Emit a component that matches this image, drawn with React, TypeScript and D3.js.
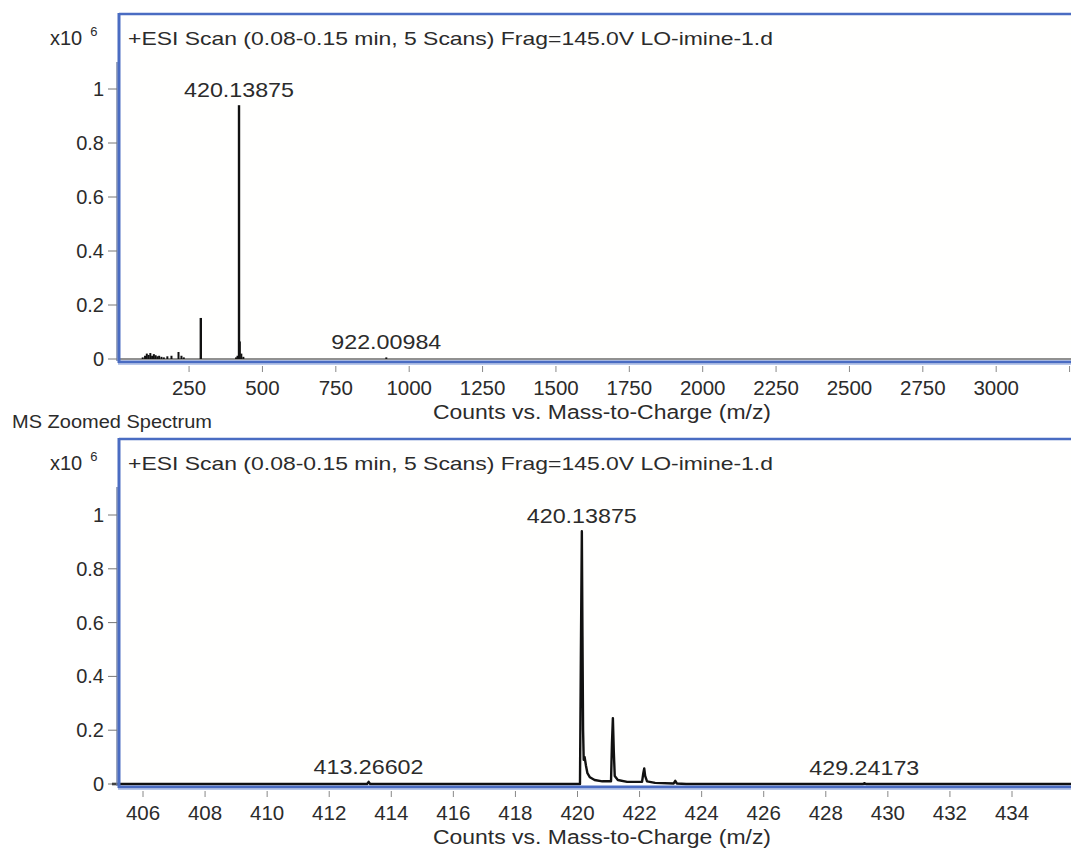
import React from "react";
import * as d3 from "d3";

// full scan: stick peaks (m/z, intensity x10^6)
const fullMz = [92, 100, 106, 112, 118, 124, 130, 136, 142, 148, 156, 164, 176, 190, 214, 224, 232, 290, 410, 415, 420.14, 423, 428, 435, 922];
const fullInt = [0.006, 0.012, 0.02, 0.015, 0.022, 0.012, 0.018, 0.014, 0.01, 0.012, 0.008, 0.006, 0.01, 0.012, 0.026, 0.012, 0.006, 0.152, 0.006, 0.012, 0.94, 0.065, 0.02, 0.008, 0.006];
const fullTicks = [250, 500, 750, 1000, 1250, 1500, 1750, 2000, 2250, 2500, 2750, 3000, 3250];
const fullTickLabels = ["250", "500", "750", "1000", "1250", "1500", "1750", "2000", "2250", "2500", "2750", "3000", ""];
const fullLabels = [
  { mz: 420.13875, int: 0.94, text: "420.13875" },
  { mz: 922.00984, int: 0.006, text: "922.00984" },
];

// zoomed profile (m/z, intensity x10^6)
const zoomMz = [405, 413.22, 413.27, 413.32, 420.08, 420.11, 420.14, 420.16, 420.18, 420.2, 420.23, 420.27, 420.32, 420.4, 420.55, 420.8, 421.08, 421.11, 421.14, 421.17, 421.2, 421.3, 421.6, 422.08, 422.12, 422.15, 422.18, 422.24, 422.5, 423.1, 423.15, 423.2, 423.5, 429.2, 429.24, 429.3, 438];
const zoomInt = [0, 0, 0.008, 0, 0, 0.5, 0.94, 0.55, 0.2, 0.09, 0.1, 0.07, 0.04, 0.025, 0.015, 0.01, 0.01, 0.15, 0.245, 0.12, 0.03, 0.015, 0.008, 0.008, 0.04, 0.058, 0.03, 0.01, 0.004, 0.002, 0.012, 0.002, 0, 0, 0.003, 0, 0];
const zoomTicks = [406, 408, 410, 412, 414, 416, 418, 420, 422, 424, 426, 428, 430, 432, 434];
const zoomTickLabels = zoomTicks.map(String);
const zoomLabels = [
  { mz: 413.26602, int: 0.008, text: "413.26602" },
  { mz: 420.13875, int: 0.94, text: "420.13875" },
  { mz: 429.24173, int: 0.003, text: "429.24173" },
];

const yTicks = [0, 0.2, 0.4, 0.6, 0.8, 1];
const titleText = "+ESI Scan (0.08-0.15 min, 5 Scans) Frag=145.0V LO-imine-1.d";
const axisTitle = "Counts vs. Mass-to-Charge (m/z)";

const W = 1071;
const H = 848;
const FONT = "'Liberation Sans', Arial, sans-serif";
const BLUE = "#4a6cc2";
const TXT = "#2b2b2b";

type PanelProps = {
  top: number;
  y0: number;
  y1: number;
  x: d3.ScaleLinear<number, number>;
  ticks: number[];
  tickLabels: string[];
  children: React.ReactNode;
  labels: { mz: number; int: number; text: string }[];
};

const Panel = ({ top, y0, y1, x, ticks, tickLabels, children, labels }: PanelProps) => {
  const y = d3.scaleLinear().domain([0, 1]).range([y0, y1]);
  const left = 119;
  return (
    <g>
      <rect x={left} y={top} width={W - left + 5} height={y0 - top + 2} fill="#fffffe" />
      <g>{children}</g>
      {/* frame */}
      <line x1={left - 2} x2={left - 2} y1={top + 48} y2={y0 + 2} stroke="#7d8aa8" strokeWidth={1.5} />
      <line x1={left} x2={W + 5} y1={top} y2={top} stroke={BLUE} strokeWidth={2.5} />
      <line x1={left} x2={left} y1={top - 1} y2={y0 + 4} stroke={BLUE} strokeWidth={3} />
      <line x1={left - 1} x2={W + 5} y1={y0 + 3} y2={y0 + 3} stroke={BLUE} strokeWidth={3} />
      <line x1={left - 1} x2={W + 5} y1={y0 + 5.5} y2={y0 + 5.5} stroke="#b9c8ea" strokeWidth={1} />
      {/* y axis */}
      {yTicks.map((t) => (
        <g key={t}>
          <line x1={left - 11} x2={left - 2} y1={y(t)} y2={y(t)} stroke="#777" strokeWidth={1} />
          <text x={left - 15} y={y(t) + 7} textAnchor="end" fontSize={20} fill={TXT} fontFamily={FONT}>
            {d3.format("~g")(t)}
          </text>
        </g>
      ))}
      <text x={50} y={top + 31} fontSize={20} fill={TXT} fontFamily={FONT}>
        x10
        <tspan dx={8} dy={-9} fontSize={13}>6</tspan>
      </text>
      <text x={left + 9} y={top + 31} fontSize={19} fill={TXT} fontFamily={FONT} textLength={645} lengthAdjust="spacingAndGlyphs">
        {titleText}
      </text>
      {/* x axis */}
      {ticks.map((t, i) => (
        <g key={t}>
          <line x1={x(t)} x2={x(t)} y1={y0 + 7} y2={y0 + 13} stroke="#888" strokeWidth={1} />
          <text x={x(t)} y={y0 + 36} textAnchor="middle" fontSize={20.5} fill={TXT} fontFamily={FONT}>
            {tickLabels[i]}
          </text>
        </g>
      ))}
      <text x={433} y={y0 + 60} fontSize={20} fill={TXT} fontFamily={FONT} textLength={338} lengthAdjust="spacingAndGlyphs">
        {axisTitle}
      </text>
      {labels.map((l) => (
        <text
          key={l.text}
          x={x(l.mz) - 55}
          y={y(l.int) - 8}
          fontSize={21}
          fill={TXT}
          fontFamily={FONT}
          textLength={110}
          lengthAdjust="spacingAndGlyphs"
        >
          {l.text}
        </text>
      ))}
    </g>
  );
};

export default function App() {
  const xFull = d3.scaleLinear().domain([0, 3000]).range([115.7, 115.7 + 3000 * 0.2935]);
  const yFull = d3.scaleLinear().domain([0, 1]).range([359, 89]);

  const xZoom = d3.scaleLinear().domain([406, 434]).range([143, 1012]);
  const yZoom = d3.scaleLinear().domain([0, 1]).range([784, 515]);

  const profile = d3
    .line<number>()
    .x((_, i) => xZoom(zoomMz[i]))
    .y((d) => yZoom(d));

  return (
    <div style={{ position: "absolute", left: 0, top: 0 }}>
      <svg width={W} height={H} style={{ display: "block", background: "#fff" }}>
        <Panel top={14} y0={359} y1={89} x={xFull} ticks={fullTicks} tickLabels={fullTickLabels} labels={fullLabels}>
          <line x1={xFull(12)} x2={W} y1={yFull(0)} y2={yFull(0)} stroke="#222" strokeWidth={1} />
          {fullMz.map((m, i) => (
            <line
              key={m}
              x1={xFull(m)}
              x2={xFull(m)}
              y1={yFull(0)}
              y2={yFull(fullInt[i])}
              stroke="#111"
              strokeWidth={m === 420.14 || m === 290 ? 2.4 : 2}
            />
          ))}
        </Panel>
        <text x={12} y={428} fontSize={18} fill={TXT} fontFamily={FONT} textLength={200} lengthAdjust="spacingAndGlyphs">
          MS Zoomed Spectrum
        </text>
        <Panel top={439} y0={784} y1={515} x={xZoom} ticks={zoomTicks} tickLabels={zoomTickLabels} labels={zoomLabels}>
          <path d={profile(zoomInt) || ""} fill="none" stroke="#111" strokeWidth={2.4} strokeLinejoin="round" />
        </Panel>
      </svg>
    </div>
  );
}
